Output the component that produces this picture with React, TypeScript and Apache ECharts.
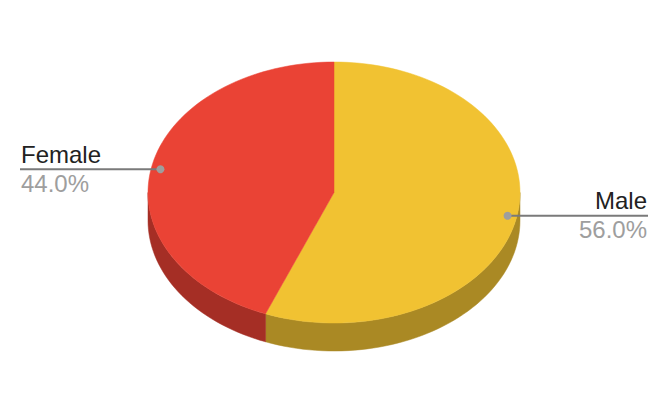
import * as echarts from 'echarts';
import { useEffect, useRef } from 'react';

const categories = ['Male', 'Female'];
const values = [56, 44];
const topColors = ['#F1C232', '#EA4335'];
const sideColors = ['#AA8924', '#A52E25'];

const FONT = 'Arial, "Liberation Sans", sans-serif';

export default function App() {
    const chartRef = useRef<HTMLDivElement>(null);

    useEffect(() => {
        document.body.style.margin = '0';
        if (!chartRef.current) return;

        const chart = echarts.init(chartRef.current, null, { renderer: 'svg' });

        const total = values.reduce((a, b) => a + b, 0);
        const cx = 334;
        const cy = 192.5;
        const rx = 186;
        const ry = 130.5;
        const depth = 28;

        const pt = (t: number, dy = 0) => [cx + rx * Math.sin(t), cy - ry * Math.cos(t) + dy];
        const arc = (a0: number, a1: number, dy = 0) => {
            const n = Math.max(2, Math.ceil(((a1 - a0) / (Math.PI * 2)) * 180));
            const out: number[][] = [];
            for (let i = 0; i <= n; i++) out.push(pt(a0 + ((a1 - a0) * i) / n, dy));
            return out;
        };

        const renderItem = (params: any, api: any) => {
            const i = params.dataIndex;
            const v = api.value(0);
            const before = values.slice(0, i).reduce((a, b) => a + b, 0);
            const a0 = (before / total) * Math.PI * 2;
            const a1 = ((before + v) / total) * Math.PI * 2;
            const children: any[] = [];

            // visible side wall (front half only)
            const s = Math.max(a0, Math.PI / 2);
            const e = Math.min(a1, (Math.PI * 3) / 2);
            if (s < e) {
                children.push({
                    type: 'polygon',
                    z2: 1,
                    shape: { points: [...arc(s, e), ...arc(s, e, depth).reverse()] },
                    style: { fill: sideColors[i], stroke: sideColors[i], lineWidth: 0.5 },
                });
            }

            // top face
            children.push({
                type: 'polygon',
                z2: 2,
                shape: { points: [[cx, cy], ...arc(a0, a1)] },
                style: { fill: topColors[i], stroke: topColors[i], lineWidth: 0.5 },
            });

            // label
            const mid = (a0 + a1) / 2;
            const [dx, dy] = [cx + 0.95 * rx * Math.sin(mid), cy - 0.95 * ry * Math.cos(mid)];
            const right = Math.sin(mid) > 0;
            const endX = right ? 648 : 20;
            children.push({
                type: 'line',
                z2: 3,
                shape: { x1: dx, y1: dy, x2: endX, y2: dy },
                style: { stroke: '#7a7a7a', lineWidth: 2 },
            });
            children.push({
                type: 'circle',
                z2: 4,
                shape: { cx: dx, cy: dy, r: 4 },
                style: { fill: '#9e9e9e' },
            });
            const align = right ? 'right' : 'left';
            const tx = right ? endX - 1 : endX + 1;
            children.push({
                type: 'text',
                z2: 4,
                x: tx,
                y: dy - 3,
                style: {
                    text: categories[i],
                    fill: '#222222',
                    fontSize: 24,
                    fontFamily: FONT,
                    align,
                    textAlign: align,
                    verticalAlign: 'bottom',
                    textVerticalAlign: 'bottom',
                },
            });
            children.push({
                type: 'text',
                z2: 4,
                x: tx,
                y: dy + 2,
                style: {
                    text: ((v / total) * 100).toFixed(1) + '%',
                    fill: '#9e9e9e',
                    fontSize: 24,
                    fontFamily: FONT,
                    align,
                    textAlign: align,
                    verticalAlign: 'top',
                    textVerticalAlign: 'top',
                },
            });

            return { type: 'group', children };
        };

        const option: echarts.EChartsOption = {
            animation: false,
            backgroundColor: '#ffffff',
            series: [
                {
                    type: 'custom',
                    coordinateSystem: 'none',
                    renderItem: renderItem as any,
                    data: values.map((v, i) => ({ name: categories[i], value: v })),
                },
            ],
        };

        chart.setOption(option);

        const handleResize = () => chart.resize();
        window.addEventListener('resize', handleResize);

        return () => {
            chart.dispose();
            window.removeEventListener('resize', handleResize);
        };
    }, []);

    return <div ref={chartRef} style={{ width: '668px', height: '414px' }} />;
}
